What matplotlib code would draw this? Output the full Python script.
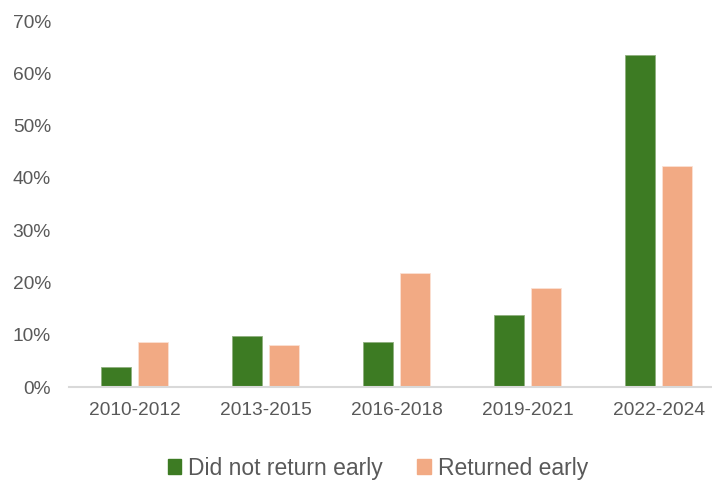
import matplotlib.pyplot as plt
import numpy as np
from matplotlib.patches import Patch
from matplotlib.ticker import PercentFormatter

plt.rcParams["font.family"] = ["Liberation Sans", "DejaVu Sans"]

periods = ["2010-2012", "2013-2015", "2016-2018", "2019-2021", "2022-2024"]
did_not_return = [3.8, 9.8, 8.7, 13.8, 63.5]
returned_early = [8.6, 8.1, 21.8, 18.9, 42.3]

GREEN = "#3d7b23"
ORANGE = "#f2aa84"
TEXT = "#595959"

fig = plt.figure(figsize=(7.12, 4.82), dpi=100)
ax = fig.add_axes([69 / 712, 94.7 / 482, 655 / 712, 366.3 / 482])

x = np.arange(len(periods))
width = 0.227
off = 0.141
ax.bar(x - off, did_not_return, width, color=GREEN, edgecolor="#8fb07f", linewidth=0.6)
ax.bar(x + off, returned_early, width, color=ORANGE, edgecolor="#fbe1d4", linewidth=0.6)

ax.set_xlim(-0.5, len(periods) - 0.5)
ax.set_ylim(0, 70)
ax.set_yticks(range(0, 71, 10))
ax.yaxis.set_major_formatter(PercentFormatter(decimals=0))
ax.set_xticks(x)
ax.set_xticklabels(periods)

for side in ["top", "right", "left"]:
    ax.spines[side].set_visible(False)
ax.spines["bottom"].set_color("#d9d9d9")
ax.spines["bottom"].set_linewidth(1.5)
ax.tick_params(axis="both", length=0, labelsize=13.8, labelcolor=TEXT)
ax.tick_params(axis="y", pad=13)
ax.tick_params(axis="x", pad=10.5)

handles = [Patch(color=GREEN), Patch(color=ORANGE)]
fig.legend(handles, ["Did not return early", "Returned early"],
           loc="center", bbox_to_anchor=(378 / 712, 14 / 482), ncol=2,
           frameon=False, fontsize=16.5, labelcolor=TEXT,
           handlelength=0.6, handleheight=0.6, handletextpad=0.3,
           columnspacing=1.5)

fig.savefig("out.png", dpi=100)
